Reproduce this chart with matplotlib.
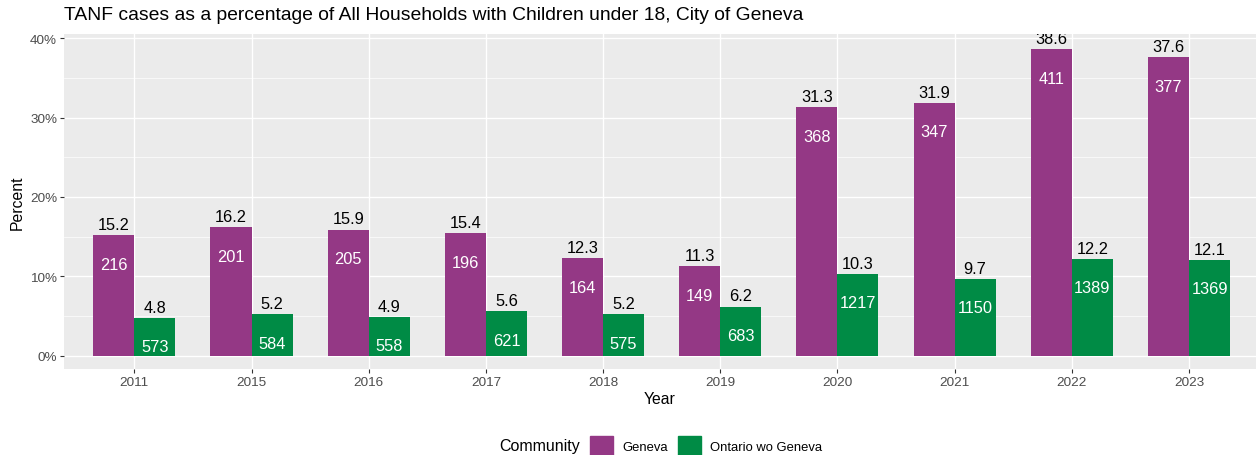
import matplotlib
matplotlib.use("Agg")
import matplotlib.pyplot as plt
import matplotlib.patches as mpatches
import numpy as np

years = ["2011", "2015", "2016", "2017", "2018", "2019", "2020", "2021", "2022", "2023"]
geneva_pct = [15.2, 16.2, 15.9, 15.4, 12.3, 11.3, 31.3, 31.9, 38.6, 37.6]
geneva_cnt = [216, 201, 205, 196, 164, 149, 368, 347, 411, 377]
ontario_pct = [4.8, 5.2, 4.9, 5.6, 5.2, 6.2, 10.3, 9.7, 12.2, 12.1]
ontario_cnt = [573, 584, 558, 621, 575, 683, 1217, 1150, 1389, 1369]
series_names = ["Geneva", "Ontario wo Geneva"]
colors = ["#943885", "#008B45"]

plt.rcParams['font.family'] = ['Liberation Sans', 'DejaVu Sans']

W, H = 1256, 456
fig = plt.figure(figsize=(W / 100, H / 100), dpi=100)
ax = fig.add_axes([64 / W, 1 - 370 / H, 1 - 64 / W, (370 - 35) / H])
ax.set_facecolor("#EBEBEB")

x = np.arange(len(years))
bw = 0.35
for vals, cnts, col, off in [(geneva_pct, geneva_cnt, colors[0], -bw / 2),
                             (ontario_pct, ontario_cnt, colors[1], bw / 2)]:
    ax.bar(x + off, vals, width=bw, color=col, zorder=3)
    for xi, v, c in zip(x + off, vals, cnts):
        ax.annotate(f"{v:.1f}", (xi, v), xytext=(0, 7.6), textcoords="offset points",
                    ha="center", va="center", fontsize=11.8, color="black", zorder=4,
                    annotation_clip=False, clip_on=True)
        ax.annotate(f"{c}", (xi, v), xytext=(0, -20.9), textcoords="offset points",
                    ha="center", va="center", fontsize=11.8, color="white", zorder=4,
                    clip_on=True)

ax.set_xlim(-0.6, 9 + (1256 - 1189) / 117.3)
ax.set_ylim(-1.676, 40.54)
ax.set_xticks(x)
ax.set_xticklabels(years)
ax.set_yticks([0, 10, 20, 30, 40])
ax.set_yticklabels(["0%", "10%", "20%", "30%", "40%"])
ax.set_yticks([5, 15, 25, 35], minor=True)
ax.grid(which="major", color="white", linewidth=1.0, zorder=0)
ax.grid(which="minor", axis="y", color="white", linewidth=0.5, zorder=0)
ax.set_axisbelow(True)
for s in ax.spines.values():
    s.set_visible(False)
ax.tick_params(axis="both", which="major", length=3, width=0.8, color="#333333",
               labelcolor="#4D4D4D", labelsize=9.7, pad=2)
ax.tick_params(axis="both", which="minor", length=0)

ax.set_xlabel("Year", fontsize=11.3, labelpad=2.5)
ax.set_ylabel("Percent", fontsize=11.3, labelpad=4)

fig.text(64 / W, 1 - 16 / H, "TANF cases as a percentage of All Households with Children under 18, City of Geneva",
         fontsize=13.85, ha="left", va="center")

handles = [mpatches.Patch(color=colors[0], label=series_names[0]),
           mpatches.Patch(color=colors[1], label=series_names[1])]
fig.text(580 / W, 1 - 446.5 / H, "Community", fontsize=11.5, ha="right", va="center")
leg = fig.legend(handles=handles, loc="center left", bbox_to_anchor=(590 / W, 1 - 446.5 / H),
                 ncol=2, frameon=False, fontsize=9.4, handlelength=1.76, handleheight=1.76,
                 handletextpad=0.69, columnspacing=0.77, borderaxespad=0, borderpad=0)

fig.savefig("out.png", dpi=100)
